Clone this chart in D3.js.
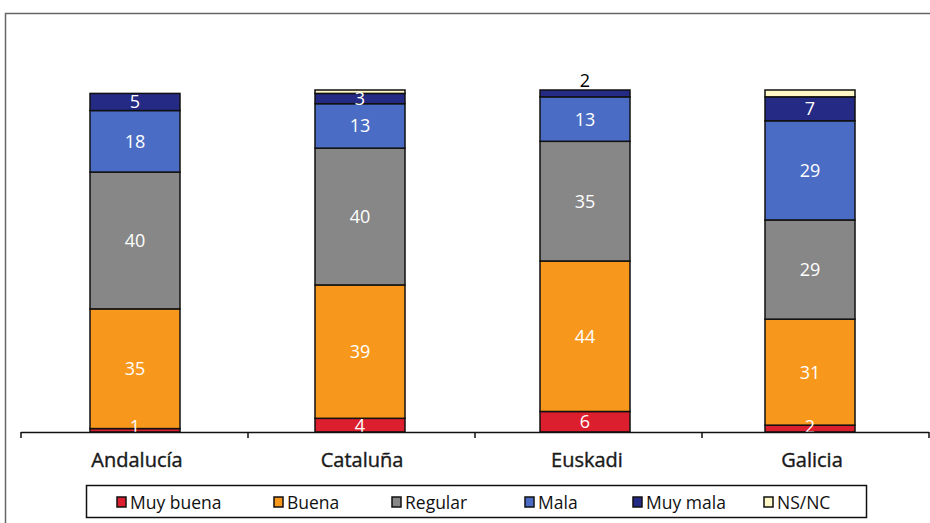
<!DOCTYPE html>
<html><head><meta charset="utf-8">
<script src="https://cdn.jsdelivr.net/npm/d3@7"></script>
<style>html,body{margin:0;padding:0;background:#fff;} svg{display:block;}</style>
</head><body>
<script>
const categories = ["Andalucía", "Cataluña", "Euskadi", "Galicia"];
const seriesNames = ["Muy buena", "Buena", "Regular", "Mala", "Muy mala", "NS/NC"];
const muyBuena = [1, 4, 6, 2];
const buena = [35, 39, 44, 31];
const regular = [40, 40, 35, 29];
const mala = [18, 13, 13, 29];
const muyMala = [5, 3, 2, 7];
const nsnc = [0, 1, 0, 2];
const colors = ["#DC1F2E", "#F7981D", "#878787", "#4A6CC4", "#252A84", "#FFF7C6"];

const W = 930, H = 523;
const svg = d3.select("body").append("svg").attr("width", W).attr("height", H);
const font = "'Open Sans', 'DejaVu Sans', sans-serif";

// outer frame
svg.append("path").attr("d", `M5.5,${H} L5.5,13.5 L${W},13.5`).attr("fill", "none").attr("stroke", "#666").attr("stroke-width", 1.5);

const rows = categories.map((c, i) => ({cat: c, "Muy buena": muyBuena[i], "Buena": buena[i], "Regular": regular[i], "Mala": mala[i], "Muy mala": muyMala[i], "NS/NC": nsnc[i]}));
const stack = d3.stack().keys(seriesNames)(rows);

const x = d3.scaleBand().domain(categories).range([22.5, 922.5]).paddingInner(0.6).paddingOuter(0.3);
const y = d3.scaleLinear().domain([0, 100]).range([432, 90]);

const g = svg.append("g");
stack.forEach((s, si) => {
  g.selectAll(null).data(s).enter().append("rect")
    .attr("x", d => x(d.data.cat))
    .attr("width", x.bandwidth())
    .attr("y", d => y(d[1]))
    .attr("height", d => y(d[0]) - y(d[1]))
    .attr("fill", colors[si])
    .attr("stroke", "#111")
    .attr("stroke-width", d => (d[1] - d[0]) > 0 ? 1.5 : 0);
});

// value labels
stack.forEach((s, si) => {
  if (seriesNames[si] === "NS/NC") return;
  s.forEach(d => {
    const v = d[1] - d[0];
    if (v <= 0) return;
    const small = v <= 2 && si === 4;
    const cy = small ? y(d[1]) - 9 : Math.min((y(d[0]) + y(d[1])) / 2, 427);
    g.append("text")
      .attr("x", x(d.data.cat) + x.bandwidth() / 2)
      .attr("y", cy)
      .attr("dy", "0.36em")
      .attr("text-anchor", "middle")
      .attr("font-family", font)
      .attr("font-size", 18)
      .attr("fill", small ? "#000" : "#fff")
      .text(v);
  });
});

// axis
const axisStep = (929 - 21) / categories.length;
svg.append("line").attr("x1", 21).attr("x2", 929).attr("y1", 432.5).attr("y2", 432.5).attr("stroke", "#111").attr("stroke-width", 1.5);
d3.range(categories.length + 1).forEach(i => {
  const tx = 21 + i * axisStep;
  svg.append("line").attr("x1", tx).attr("x2", tx).attr("y1", 432).attr("y2", 438).attr("stroke", "#111").attr("stroke-width", 1.5);
});
categories.forEach(c => {
  svg.append("text").attr("x", x(c) + x.bandwidth() / 2 + 2).attr("y", 467)
    .attr("text-anchor", "middle").attr("font-family", font).attr("font-size", 20)
    .attr("fill", "#1a1a1a").attr("stroke", "#1a1a1a").attr("stroke-width", 0.4).text(c);
});

// legend
svg.append("rect").attr("x", 86.5).attr("y", 485.5).attr("width", 780).attr("height", 32).attr("fill", "#fff").attr("stroke", "#111").attr("stroke-width", 1.5);
const legX = [117, 274, 392, 525, 633, 764];
seriesNames.forEach((n, i) => {
  svg.append("rect").attr("x", legX[i]).attr("y", 497).attr("width", 9).attr("height", 10)
    .attr("fill", colors[i]).attr("stroke", "#111").attr("stroke-width", 1.5);
  svg.append("text").attr("x", legX[i] + 13).attr("y", 509).attr("font-family", font).attr("font-size", 17.5).attr("fill", "#111").text(n);
});
</script>
</body></html>
